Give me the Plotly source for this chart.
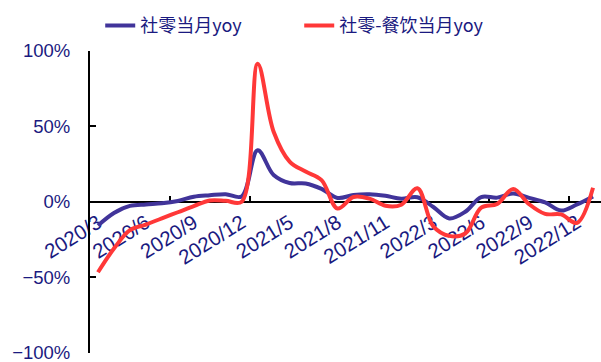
import plotly.graph_objects as go

categories = [
    "2020/3", "2020/4", "2020/5", "2020/6", "2020/7", "2020/8", "2020/9", "2020/10", "2020/11", "2020/12",
    "2021/3", "2021/4", "2021/5", "2021/6", "2021/7", "2021/8", "2021/9", "2021/10", "2021/11", "2021/12",
    "2022/2", "2022/3", "2022/4", "2022/5", "2022/6", "2022/7", "2022/8", "2022/9", "2022/10", "2022/11", "2022/12",
    "2023/2",
]

retail_yoy = [
    -15.8, -7.5, -2.8, -1.8, -1.1, 0.5, 3.3, 4.3, 5.0, 3.5,
    34.2, 17.7, 12.4, 12.1, 8.5, 2.5, 4.4, 4.9, 3.9, 2.0,
    3.0, -3.5, -11.1, -6.7, 3.1, 2.7, 5.4, 2.5, -0.5, -5.9, -1.8,
    3.5,
]

catering_yoy = [
    -46.8, -31.1, -18.9, -15.2, -11.0, -7.0, -2.9, 0.8, 0.6, 0.0,
    91.6, 46.4, 26.6, 20.0, 14.3, -4.5, 3.1, 2.0, -2.7, -2.0,
    8.9, -16.4, -22.7, -21.1, -4.0, -1.5, 8.4, -1.7, -8.1, -8.4, -14.1,
    9.2,
]

series_names = ["社零当月yoy", "社零-餐饮当月yoy"]
y_tick_vals = [-100, -50, 0, 50, 100]
y_tick_text = ["\u2212100%", "\u221250%", "0%", "50%", "100%"]
minor_tick_positions = [4.5, 9.5, 14.5, 19.5, 24.5, 29.5]

TEXT = "#1a1a80"
FONT = "Liberation Sans, Arial, Noto Sans CJK SC, sans-serif"

fig = go.Figure()
fig.add_trace(go.Scatter(
    x=categories, y=retail_yoy, name=series_names[0], mode="lines",
    line=dict(color="#41349A", width=4, shape="spline", smoothing=1.0),
))
fig.add_trace(go.Scatter(
    x=categories, y=catering_yoy, name=series_names[1], mode="lines",
    line=dict(color="#FF3838", width=4, shape="spline", smoothing=1.0),
))
fig.add_trace(go.Scatter(
    x=[minor_tick_positions[0]], y=[0], xaxis="x2", mode="markers",
    marker=dict(opacity=0), showlegend=False, hoverinfo="skip",
))

n = len(categories)
fig.update_layout(
    width=601, height=362,
    margin=dict(l=90, r=0, t=51, b=9, autoexpand=False),
    paper_bgcolor="white", plot_bgcolor="white",
    font=dict(family=FONT, color=TEXT, size=18),
    showlegend=True,
    legend=dict(
        orientation="h", x=0.02, xanchor="left", y=0.98, yanchor="top",
        yref="container",
        font=dict(size=18, color=TEXT, family="Noto Sans CJK SC, Liberation Sans"),
        bgcolor="rgba(0,0,0,0)", traceorder="normal",
        entrywidth=154, entrywidthmode="pixels",
    ),
    xaxis=dict(
        type="category", range=[-0.5, n - 0.5],
        tickmode="linear", tick0=0, dtick=3,
        anchor="free", position=0.5, automargin=False,
        showline=True, linecolor="black", linewidth=2,
        ticks="", showgrid=False, zeroline=False, layer="below traces",
        tickangle=-32, tickfont=dict(size=20.5, color=TEXT, family=FONT),
    ),
    xaxis2=dict(
        type="linear", range=[-0.5, n - 0.5], overlaying="x",
        anchor="free", position=0.5, automargin=False, layer="below traces",
        tickmode="array", tickvals=minor_tick_positions,
        ticks="inside", ticklen=6, tickwidth=2, tickcolor="black",
        showticklabels=False, showline=False, showgrid=False, zeroline=False,
    ),
    yaxis=dict(
        range=[-100.4, 100], tickmode="array", tickvals=y_tick_vals, ticktext=y_tick_text,
        showline=True, linecolor="black", linewidth=2, automargin=False,
        ticks="inside", ticklen=6, tickwidth=2, tickcolor="black",
        showgrid=False, zeroline=False, ticklabeloverflow="allow",
        tickfont=dict(size=18.5, color=TEXT, family=FONT),
        ticklabelstandoff=14,
    ),
)

fig.write_html("out.html")
